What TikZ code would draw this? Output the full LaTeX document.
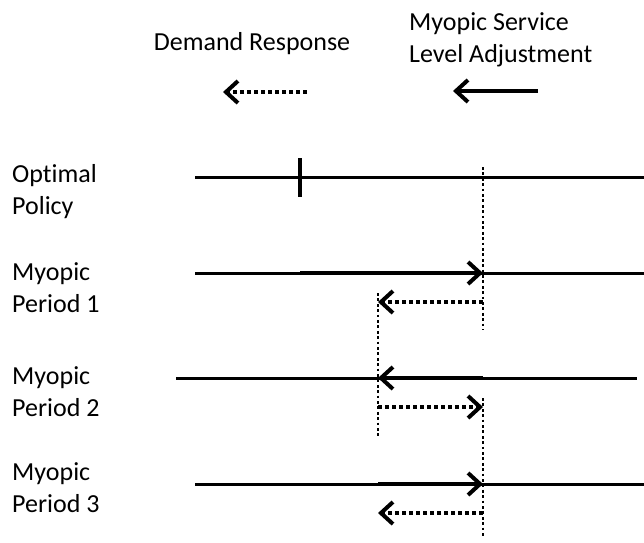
\documentclass[tikz,border=0pt]{standalone}
\usepackage{fontspec}
\setmainfont{Carlito}[Ligatures={NoCommon}]
\usetikzlibrary{arrows.meta}
\begin{document}
\begin{tikzpicture}[x=1pt,y=-1pt,
 lbl/.style={font=\fontsize{26}{32}\selectfont, inner sep=0pt, align=left, anchor=base west},
 axis/.style={line width=3pt},
 shiftarrow/.style={line width=4pt, -{Straight Barb[length=12pt,width=22pt]}},
 resparrow/.style={line width=4pt, dash pattern=on 4pt off 3pt, -{Straight Barb[length=12pt,width=22pt]}},
 guide/.style={line width=2.8pt, dash pattern=on 2.8pt off 2.6pt},
 tickmark/.style={line width=4pt}]
\useasboundingbox (0,0) rectangle (644,542);

% legend
\node[lbl, anchor=base] (dr) at (252,50) {Demand Response};
\node[lbl] (msl) at (409,62) {Myopic Service\\Level Adjustment};
\coordinate (drs) at (307,92); \coordinate (dre) at (223,92);
\coordinate (mss) at (538,91); \coordinate (mse) at (453,91);
\draw[resparrow] (drs) -- (dre);
\draw[shiftarrow] (mss) -- (mse);

% row labels (anchored at the baseline of the second line)
\node[lbl] (l0) at (12,214) {Optimal\\Policy};
\node[lbl] (l1) at (12,312) {Myopic\\Period 1};
\node[lbl] (l2) at (12,416) {Myopic\\Period 2};
\node[lbl] (l3) at (12,512) {Myopic\\Period 3};

% optimal policy
\coordinate (a0s) at (195,177); \coordinate (a0e) at (644,177);
\draw[axis] (a0s) -- (a0e);
\coordinate (t0a) at (300,158); \coordinate (t0b) at (300,197);
\draw[tickmark] (t0a) -- (t0b);
\coordinate (g1a) at (483,167); \coordinate (g1b) at (483,330);
\draw[guide] (g1a) -- (g1b);

% period 1
\coordinate (a1s) at (195,273); \coordinate (a1e) at (644,273);
\draw[axis] (a1s) -- (a1e);
\coordinate (s1a) at (300,273); \coordinate (s1b) at (483,273);
\draw[shiftarrow] (s1a) -- (s1b);
\coordinate (r1a) at (483,302); \coordinate (r1b) at (378,302);
\draw[resparrow] (r1a) -- (r1b);
\coordinate (g2a) at (378,293); \coordinate (g2b) at (378,436);
\draw[guide] (g2a) -- (g2b);

% period 2
\coordinate (a2s) at (176,378); \coordinate (a2e) at (637,378);
\draw[axis] (a2s) -- (a2e);
\coordinate (s2a) at (483,378); \coordinate (s2b) at (378,378);
\draw[shiftarrow] (s2a) -- (s2b);
\coordinate (r2a) at (378,407); \coordinate (r2b) at (483,407);
\draw[resparrow] (r2a) -- (r2b);
\coordinate (g3a) at (483,398); \coordinate (g3b) at (483,537);
\draw[guide] (g3a) -- (g3b);

% period 3
\coordinate (a3s) at (195,484); \coordinate (a3e) at (644,484);
\draw[axis] (a3s) -- (a3e);
\coordinate (s3a) at (378,484); \coordinate (s3b) at (483,484);
\draw[shiftarrow] (s3a) -- (s3b);
\coordinate (r3a) at (483,513); \coordinate (r3b) at (378,513);
\draw[resparrow] (r3a) -- (r3b);
\end{tikzpicture}
\end{document}
